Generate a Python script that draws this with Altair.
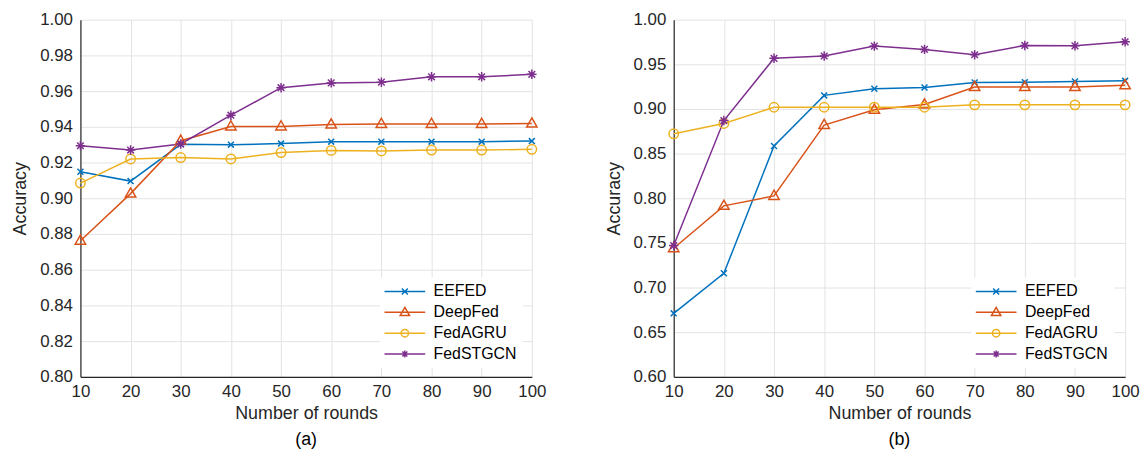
import altair as alt
import pandas as pd

rounds = [10, 20, 30, 40, 50, 60, 70, 80, 90, 100]
series = ["EEFED", "DeepFed", "FedAGRU", "FedSTGCN"]
colors = ["#0072BD", "#D95319", "#EDB120", "#7E2F8E"]

# panel (a)
a_eefed = [0.9148, 0.9096, 0.9302, 0.9300, 0.9306, 0.9317, 0.9317, 0.9317, 0.9317, 0.9320]
a_deepfed = [0.8762, 0.9026, 0.9322, 0.9402, 0.9402, 0.9413, 0.9416, 0.9416, 0.9416, 0.9418]
a_fedagru = [0.9085, 0.9220, 0.9228, 0.9220, 0.9256, 0.9268, 0.9265, 0.9270, 0.9270, 0.9274]
a_fedstgcn = [0.9294, 0.9270, 0.9304, 0.9465, 0.9619, 0.9646, 0.9650, 0.9680, 0.9680, 0.9694]

# panel (b)
b_eefed = [0.6711, 0.7160, 0.8585, 0.9152, 0.9226, 0.9240, 0.9296, 0.9300, 0.9307, 0.9315]
b_deepfed = [0.7440, 0.7915, 0.8026, 0.8820, 0.8990, 0.9050, 0.9245, 0.9245, 0.9245, 0.9265]
b_fedagru = [0.8722, 0.8837, 0.9019, 0.9019, 0.9020, 0.9020, 0.9046, 0.9046, 0.9046, 0.9046]
b_fedstgcn = [0.7470, 0.8870, 0.9567, 0.9593, 0.9704, 0.9667, 0.9607, 0.9711, 0.9707, 0.9752]

a_yticks = [0.80, 0.82, 0.84, 0.86, 0.88, 0.90, 0.92, 0.94, 0.96, 0.98, 1.00]
b_yticks = [0.60, 0.65, 0.70, 0.75, 0.80, 0.85, 0.90, 0.95, 1.00]

# marker glyphs (normalised symbol paths)
marker_paths = [
    "M-0.6,-0.6L0.6,0.6M-0.6,0.6L0.6,-0.6",
    "M0,-1.15L1.05,0.7L-1.05,0.7Z",
    "M-0.95,0A0.95,0.95,0,1,1,0.95,0A0.95,0.95,0,1,1,-0.95,0Z",
    "M-0.95,0L0.95,0M0,-0.95L0,0.95M-0.67,-0.67L0.67,0.67M-0.67,0.67L0.67,-0.67",
]
# legend glyphs: a line segment with the marker in its middle
legend_paths = [
    "M-4.1,0L4.1,0" + "M-0.6,-0.6L0.6,0.6M-0.6,0.6L0.6,-0.6",
    "M-4.1,0L4.1,0" + "M0,-1.0L0.95,0.65L-0.95,0.65Z",
    "M-4.1,0L4.1,0" + "M-0.75,0A0.75,0.75,0,1,1,0.75,0A0.75,0.75,0,1,1,-0.75,0Z",
    "M-4.1,0L4.1,0" + "M-0.7,0L0.7,0M0,-0.7L0,0.7M-0.5,-0.5L0.5,0.5M-0.5,0.5L0.5,-0.5",
]

FONT = "Liberation Sans"
TXT = "#262626"


def make_df(vals_list):
    rows = []
    for s, vals in zip(series, vals_list):
        for r, v in zip(rounds, vals):
            rows.append({"round": r, "series": s, "acc": v})
    return pd.DataFrame(rows)


def panel(df, ymin, yticks, label, lx, ly):
    x = alt.X("round:Q",
              scale=alt.Scale(domain=[10, 100], nice=False, zero=False),
              axis=alt.Axis(values=rounds, title="Number of rounds", format="d",
                            labelFlush=False, labelPadding=7, titlePadding=5))
    y = alt.Y("acc:Q",
              scale=alt.Scale(domain=[ymin, 1.0], nice=False, zero=False),
              axis=alt.Axis(values=yticks, format=".2f", title="Accuracy",
                            labelFlush=False, labelPadding=8, titlePadding=10))
    cscale = alt.Scale(domain=series, range=colors)
    base = alt.Chart(df)
    line = base.mark_line(strokeWidth=1.5).encode(
        x=x, y=y, color=alt.Color("series:N", scale=cscale, legend=None))
    pts = base.mark_point(filled=False, size=100, strokeWidth=1.5, opacity=1).encode(
        x=x, y=y,
        color=alt.Color("series:N", scale=cscale, legend=None),
        shape=alt.Shape("series:N", scale=alt.Scale(domain=series, range=marker_paths), legend=None))
    leg = alt.Legend(title=None, orient="none", legendX=lx, legendY=ly,
                     symbolSize=100, symbolStrokeWidth=1.5, symbolOffset=11,
                     labelFont=FONT, labelFontSize=16, labelColor="#000000",
                     labelOffset=21, rowPadding=5, padding=6,
                     fillColor="#ffffff")
    legl = base.transform_filter("datum.acc > 5").mark_point(
        filled=False, size=100, strokeWidth=1.5, opacity=1).encode(
        x=x, y=y,
        color=alt.Color("series:N", scale=cscale, legend=leg),
        shape=alt.Shape("series:N", scale=alt.Scale(domain=series, range=legend_paths), legend=leg))
    main = alt.layer(line, pts)
    return alt.layer(main, legl).resolve_scale(color="independent", shape="independent").properties(
        width=455, height=360,
        title=alt.TitleParams(label, orient="bottom", font=FONT, fontSize=18, fontWeight="normal",
                              color="#000000", offset=9, anchor="middle"))


pa = panel(make_df([a_eefed, a_deepfed, a_fedagru, a_fedstgcn]), 0.80, a_yticks, "(a)", 302, 260)
pb = panel(make_df([b_eefed, b_deepfed, b_fedagru, b_fedstgcn]), 0.60, b_yticks, "(b)", 300, 260)

chart = alt.hconcat(pa, pb, spacing=58).properties(
    padding={"left": 3, "top": 1, "right": 0, "bottom": 0}
).configure_view(stroke=None).configure_axis(
    labelFont=FONT, labelFontSize=17, labelColor=TXT,
    titleFont=FONT, titleFontSize=18, titleColor=TXT, titleFontWeight="normal",
    domainColor=TXT, domainWidth=1.2, tickSize=0,
    gridColor="#e3e3e3", gridWidth=1
)

chart.save("out.html", embed_options={"renderer": "svg", "actions": False})
